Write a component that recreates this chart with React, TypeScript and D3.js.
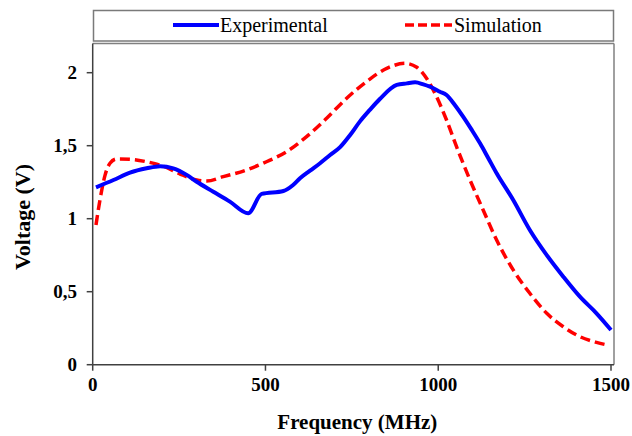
import React from "react";
import * as d3 from "d3";

const expFreq = [9.5, 60, 108, 156, 195, 233, 272, 301, 349, 397, 450, 489, 552, 580, 600, 629, 658, 687, 716, 745, 773, 802, 831, 880, 909, 933, 957, 976, 1005, 1024, 1048, 1072, 1097, 1121, 1145, 1169, 1217, 1265, 1314, 1362, 1410, 1458, 1500];
const expVolt = [1.215, 1.265, 1.315, 1.345, 1.36, 1.345, 1.30, 1.253, 1.185, 1.117, 1.037, 1.17, 1.19, 1.231, 1.277, 1.329, 1.38, 1.436, 1.49, 1.573, 1.665, 1.745, 1.82, 1.916, 1.927, 1.934, 1.92, 1.904, 1.87, 1.847, 1.779, 1.699, 1.608, 1.516, 1.414, 1.311, 1.128, 0.923, 0.751, 0.603, 0.466, 0.352, 0.238];

const simFreq = [9.5, 21, 36, 50, 69, 108, 156, 204, 253, 301, 330, 378, 446, 503, 561, 619, 677, 735, 793, 851, 904, 938, 966, 995, 1024, 1053, 1092, 1130, 1169, 1217, 1265, 1314, 1362, 1410, 1458, 1495];
const simVolt = [0.957, 1.128, 1.30, 1.38, 1.409, 1.407, 1.39, 1.36, 1.306, 1.265, 1.258, 1.288, 1.334, 1.39, 1.459, 1.562, 1.688, 1.825, 1.94, 2.03, 2.064, 2.037, 1.962, 1.836, 1.676, 1.493, 1.265, 1.06, 0.854, 0.649, 0.489, 0.352, 0.26, 0.192, 0.153, 0.132];

const xTicks = [0, 500, 1000, 1500];
const yTicks = [0, 0.5, 1, 1.5, 2];
const yTickLabels = ["0", "0,5", "1", "1,5", "2"];
const legendLabels = ["Experimental", "Simulation"];

const FONT = '"Liberation Serif"';

export default function App() {
  const x = d3.scaleLinear().domain([0, 1500]).range([92.7, 611]);
  const y = d3.scaleLinear().domain([0, 2.2]).range([364.7, 43.5]);
  const line = d3
    .line<[number, number]>()
    .x((d) => x(d[0]))
    .y((d) => y(d[1]))
    .curve(d3.curveMonotoneX);
  const expPts = expFreq.map((f, i) => [f, expVolt[i]] as [number, number]);
  const simPts = simFreq.map((f, i) => [f, simVolt[i]] as [number, number]);
  const left = x(0);
  const right = 614;
  const top = 43.5;
  const bottom = y(0);
  const ts = { fontFamily: FONT };
  return (
    <svg width={632} height={436} style={{ position: "absolute", left: 0, top: 0, background: "#fff" }}>
      <rect x={0} y={0} width={632} height={436} fill="#fff" />
      {/* legend */}
      <rect x={93.5} y={10.5} width={520} height={30.5} fill="#fff" stroke="#7a7a7a" strokeWidth={1.5} />
      <line x1={173} x2={219} y1={25} y2={25} stroke="#0000ff" strokeWidth={4} />
      <text x={220} y={32} fontSize={20} style={ts}>{legendLabels[0]}</text>
      <line x1={405} x2={452} y1={25} y2={25} stroke="#ff0000" strokeWidth={3.5} strokeDasharray="9,4" />
      <text x={454} y={32} fontSize={20} style={ts}>{legendLabels[1]}</text>
      {/* plot frame */}
      <line x1={left} x2={right} y1={top} y2={top} stroke="#808080" strokeWidth={1.5} />
      <line x1={right} x2={right} y1={top} y2={bottom} stroke="#808080" strokeWidth={1.5} />
      <line x1={left} x2={left} y1={top} y2={bottom} stroke="#404040" strokeWidth={1.5} />
      <line x1={left} x2={right} y1={bottom} y2={bottom} stroke="#404040" strokeWidth={1.5} />
      {yTicks.map((t, i) => (
        <g key={"y" + t}>
          <line x1={left - 6} x2={left} y1={y(t)} y2={y(t)} stroke="#404040" strokeWidth={1.5} />
          <text x={77} y={y(t) + 6.5} textAnchor="end" fontSize={19} fontWeight="bold" style={ts}>
            {yTickLabels[i]}
          </text>
        </g>
      ))}
      {xTicks.map((t) => (
        <g key={"x" + t}>
          <line x1={x(t)} x2={x(t)} y1={bottom} y2={bottom + 6} stroke="#404040" strokeWidth={1.5} />
          <text x={x(t)} y={391} textAnchor="middle" fontSize={19} fontWeight="bold" style={ts}>
            {t}
          </text>
        </g>
      ))}
      <text x={(left + right) / 2 + 4} y={429} textAnchor="middle" fontSize={21} fontWeight="bold" style={ts}>
        Frequency (MHz)
      </text>
      <text
        transform={`translate(30,217) rotate(-90)`}
        textAnchor="middle"
        fontSize={22}
        fontWeight="bold"
        style={ts}
      >
        Voltage (V)
      </text>
      {/* data */}
      <path d={line(simPts) || ""} fill="none" stroke="#ff0000" strokeWidth={3.5} strokeDasharray="10,5" />
      <path d={line(expPts) || ""} fill="none" stroke="#0000ff" strokeWidth={4} strokeLinejoin="round" />
    </svg>
  );
}
